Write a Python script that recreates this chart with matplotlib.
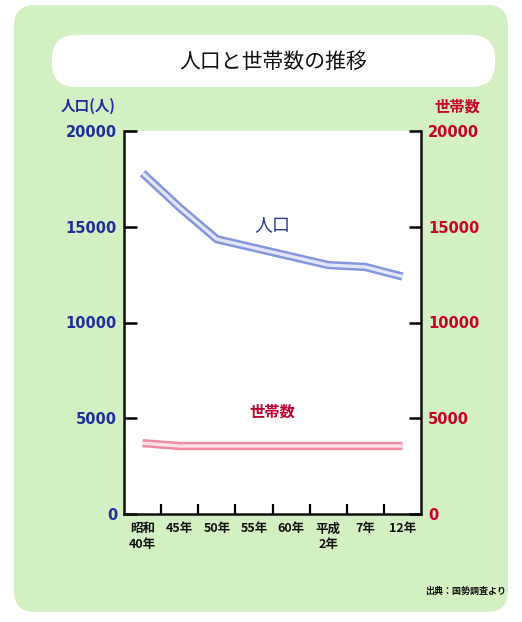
import matplotlib
matplotlib.use("Agg")
import matplotlib.pyplot as plt
from matplotlib.patches import FancyBboxPatch

plt.rcParams['font.family'] = ['Noto Sans CJK JP', 'DejaVu Sans']

categories = ["昭和\n40年", "45年", "50年", "55年", "60年", "平成\n2年", "7年", "12年"]
population = [17800, 16000, 14350, 13900, 13450, 13000, 12900, 12400]
households = [3700, 3550, 3550, 3550, 3550, 3550, 3550, 3550]
yticks = [0, 5000, 10000, 15000, 20000]

W, H = 522, 622
fig = plt.figure(figsize=(W / 100, H / 100), dpi=100)
fig.patch.set_facecolor('white')

def fx(px):
    return px / W

def fy(py):
    return 1 - py / H

# green panel
panel = FancyBboxPatch((fx(14), fy(612)), fx(508) - fx(14), fy(5) - fy(612),
                       boxstyle="round,pad=0,rounding_size=0.04",
                       transform=fig.transFigure, facecolor='#d3f0c2',
                       edgecolor='none', zorder=-3, mutation_aspect=W / H)
fig.patches.append(panel)
# title box
tbox = FancyBboxPatch((fx(52), fy(87)), fx(495) - fx(52), fy(35) - fy(87),
                      boxstyle="round,pad=0,rounding_size=0.045",
                      transform=fig.transFigure, facecolor='white',
                      edgecolor='none', zorder=-2, mutation_aspect=W / H)
fig.patches.append(tbox)
fig.text(fx(273), fy(62), "人口と世帯数の推移", ha='center', va='center',
         fontsize=15, color='#111111')

num_font = dict(family='DejaVu Sans', fontsize=10.5, fontweight='bold')

ax = fig.add_axes([fx(124), fy(514), fx(421) - fx(124), fy(131) - fy(514)])
ax.set_zorder(1)
ax.set_facecolor('white')
x = list(range(len(categories)))
ax.plot(x, population, color='#8496dc', lw=6, solid_capstyle='butt', zorder=3)
ax.plot(x, population, color='#e2e7f7', lw=2.4, solid_capstyle='butt', zorder=4)
ax.set_xlim(-0.5, len(categories) - 0.5)
ax.set_ylim(0, 20000)
ax.set_yticks(yticks)
ax.set_yticklabels([str(v) for v in yticks], color='#1f2f9c', **num_font)
ax.tick_params(axis='y', direction='in', length=9, width=1.8, pad=5)
ax.set_xticks(x)
ax.set_xticklabels(categories, fontsize=9, fontweight='bold', color='#111111',
                   linespacing=1.25)
ax.tick_params(axis='x', which='major', length=0, pad=6)
ax.set_xticks([i + 0.5 for i in x[:-1]], minor=True)
ax.tick_params(axis='x', which='minor', direction='in', length=7, width=1.6)
for s in ax.spines.values():
    s.set_linewidth(1.8)
    s.set_color('#111111')
ax.spines['top'].set_visible(False)

ax2 = ax.twinx()
ax2.set_zorder(2)
ax2.patch.set_visible(False)
ax2.plot(x, households, color='#f08ca2', lw=6, solid_capstyle='butt', zorder=3)
ax2.plot(x, households, color='#fbe0e6', lw=2.4, solid_capstyle='butt', zorder=4)
ax2.set_ylim(0, 20000)
ax2.set_yticks(yticks)
ax2.set_yticklabels([str(v) for v in yticks], color='#c8002a', **num_font)
ax2.tick_params(axis='y', direction='in', length=9, width=1.8, pad=5)
for s in ax2.spines.values():
    s.set_visible(False)

ax.text(3.49, 15100, "人口", color='#2a3a9a', fontsize=13, ha='center', va='center')
ax2.text(3.49, 5350, "世帯数", color='#c00030', fontsize=11, ha='center',
         va='center', fontweight='bold')

fig.text(fx(88), fy(106), "人口(人)", color='#1f2f9c', fontsize=10.5,
         fontweight='bold', ha='center', va='center')
fig.text(fx(457), fy(107), "世帯数", color='#c8002a', fontsize=11,
         fontweight='bold', ha='center', va='center')
fig.text(fx(506), fy(591), "出典：国勢調査より", color='#111111', fontsize=6.5,
         fontweight='bold', ha='right', va='center')

fig.savefig("out.png", dpi=100, facecolor='white')
